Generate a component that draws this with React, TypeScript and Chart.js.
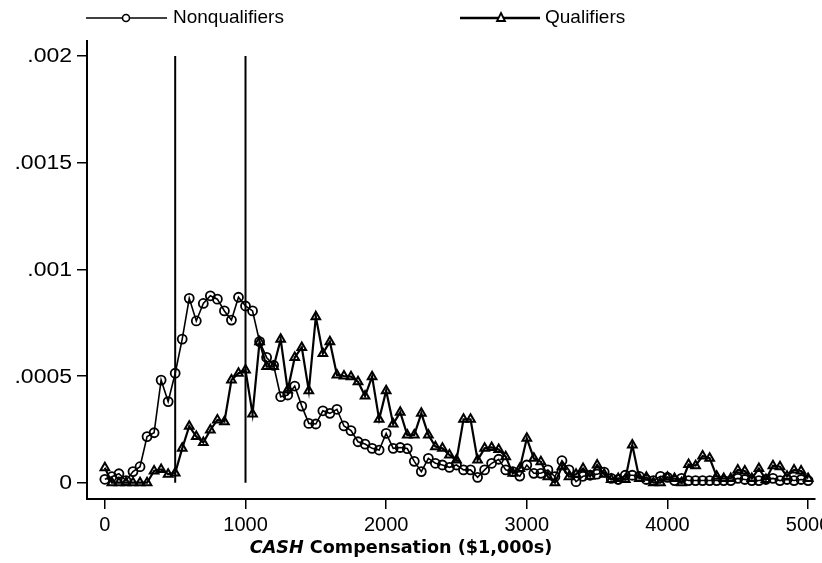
import React, { useEffect, useRef } from 'react';
import { Chart, registerables } from 'chart.js';

Chart.register(...registerables);

// CASH compensation grid ($1,000s)
const compensation = [
  0, 50, 100, 150, 200, 250, 300, 350, 400, 450,
  500, 550, 600, 650, 700, 750, 800, 850, 900, 950,
  1000, 1050, 1100, 1150, 1200, 1250, 1300, 1350, 1400, 1450,
  1500, 1550, 1600, 1650, 1700, 1750, 1800, 1850, 1900, 1950,
  2000, 2050, 2100, 2150, 2200, 2250, 2300, 2350, 2400, 2450,
  2500, 2550, 2600, 2650, 2700, 2750, 2800, 2850, 2900, 2950,
  3000, 3050, 3100, 3150, 3200, 3250, 3300, 3350, 3400, 3450,
  3500, 3550, 3600, 3650, 3700, 3750, 3800, 3850, 3900, 3950,
  4000, 4050, 4100, 4150, 4200, 4250, 4300, 4350, 4400, 4450,
  4500, 4550, 4600, 4650, 4700, 4750, 4800, 4850, 4900, 4950, 5000,
];

const nonqualifiers = [
  0.000016, 0.000028, 0.000042, 0.000010, 0.000052, 0.000075, 0.000216, 0.000234, 0.000481, 0.000380,
  0.000513, 0.000673, 0.000864, 0.000758, 0.000840, 0.000876, 0.000860, 0.000805, 0.000762, 0.000869,
  0.000828, 0.000805, 0.000661, 0.000587, 0.000550, 0.000403, 0.000411, 0.000453, 0.000359, 0.000278,
  0.000275, 0.000337, 0.000325, 0.000344, 0.000266, 0.000244, 0.000192, 0.000181, 0.000161, 0.000153,
  0.000231, 0.000161, 0.000165, 0.000160, 0.000100, 0.000052, 0.000114, 0.000091, 0.000083, 0.000072,
  0.000083, 0.000060, 0.000060, 0.000025, 0.000060, 0.000091, 0.000110, 0.000060, 0.000052, 0.000031,
  0.000083, 0.000044, 0.000044, 0.000060, 0.000028, 0.000103, 0.000060, 0.000005, 0.000030, 0.000035,
  0.000040, 0.000050, 0.000020, 0.000015, 0.000035, 0.000035, 0.000030, 0.000015, 0.000010, 0.000030,
  0.000025, 0.000010, 0.000020, 0.000010, 0.000010, 0.000010, 0.000010, 0.000010, 0.000010, 0.000010,
  0.000020, 0.000015, 0.000010, 0.000010, 0.000015, 0.000020, 0.000010, 0.000015, 0.000010, 0.000015, 0.000010,
];

const qualifiers = [
  0.000070, 0, 0, 0, 0, 0, 0, 0.000055, 0.000062, 0.000040,
  0.000045, 0.000161, 0.000265, 0.000216, 0.000188, 0.000247, 0.000294, 0.000286, 0.000481, 0.000513,
  0.000528, 0.000322, 0.000661, 0.000544, 0.000544, 0.000672, 0.000434, 0.000587, 0.000634, 0.000431,
  0.000778, 0.000606, 0.000661, 0.000505, 0.000500, 0.000497, 0.000473, 0.000406, 0.000497, 0.000297,
  0.000431, 0.000275, 0.000330, 0.000224, 0.000224, 0.000325, 0.000224, 0.000169, 0.000161, 0.000130,
  0.000106, 0.000297, 0.000297, 0.000106, 0.000161, 0.000165, 0.000156, 0.000122, 0.000044, 0.000067,
  0.000208, 0.000114, 0.000098, 0.000028, 0, 0.000075, 0.000028, 0.000040, 0.000067, 0.000030,
  0.000083, 0.000040, 0.000015, 0.000020, 0.000015, 0.000177, 0.000020, 0.000025, 0, 0,
  0.000025, 0.000020, 0, 0.000085, 0.000080, 0.000125, 0.000115, 0.000030, 0.000020, 0.000020,
  0.000060, 0.000055, 0.000020, 0.000067, 0.000015, 0.000080, 0.000075, 0.000030, 0.000060, 0.000055, 0.000020,
];

const seriesNames = ['Nonqualifiers', 'Qualifiers'];
const cutoffs = [500, 1000];
const cutoffRange = [0, 0.002];

const xTicks = [0, 1000, 2000, 3000, 4000, 5000];
const xTickLabels = ['0', '1000', '2000', '3000', '4000', '5000'];
const yTicks = [0, 0.0005, 0.001, 0.0015, 0.002];
const yTickLabels = ['0', '.0005', '.001', '.0015', '.002'];

const titleItalic = 'CASH';
const titleRest = ' Compensation ($1,000s)';

const TICK_FONT = { family: '"Liberation Sans", Arial, sans-serif', size: 20 };

const decorPlugin = {
  id: 'decor',
  afterDraw(chart: any) {
    const ctx: CanvasRenderingContext2D = chart.ctx;
    ctx.save();
    ctx.strokeStyle = '#000';
    ctx.fillStyle = '#000';

    // y tick labels (slightly wide face, right-aligned next to tick marks)
    const ys = chart.scales.y;
    ctx.font = '20px "Liberation Sans", Arial, sans-serif';
    ctx.textAlign = 'right';
    ctx.textBaseline = 'middle';
    yTicks.forEach((v, i) => {
      const py = ys.getPixelForValue(v);
      ctx.save();
      ctx.translate(72, py + 1);
      ctx.scale(1.15, 1);
      ctx.fillText(yTickLabels[i], 0, 0);
      ctx.restore();
    });

    // legend
    const ly = 18;
    ctx.lineWidth = 1.5;
    ctx.beginPath();
    ctx.moveTo(86, ly);
    ctx.lineTo(167, ly);
    ctx.stroke();
    ctx.fillStyle = '#fff';
    ctx.beginPath();
    ctx.arc(126, ly, 3.5, 0, Math.PI * 2);
    ctx.fill();
    ctx.lineWidth = 1.6;
    ctx.stroke();
    ctx.lineWidth = 2.4;
    ctx.beginPath();
    ctx.moveTo(460, ly);
    ctx.lineTo(540, ly);
    ctx.stroke();
    ctx.fillStyle = '#fff';
    ctx.beginPath();
    ctx.moveTo(501, ly - 5);
    ctx.lineTo(505, ly + 3);
    ctx.lineTo(497, ly + 3);
    ctx.closePath();
    ctx.fill();
    ctx.lineWidth = 1.8;
    ctx.stroke();
    ctx.fillStyle = '#000';
    ctx.font = '19px "Liberation Sans", Arial, sans-serif';
    ctx.textBaseline = 'middle';
    ctx.textAlign = 'left';
    ctx.fillText(seriesNames[0], 173, ly);
    ctx.fillText(seriesNames[1], 545, ly);

    // x-axis title
    const fItalic = 'italic bold 17.6px "DejaVu Sans", Verdana, sans-serif';
    const fBold = 'bold 17.6px "DejaVu Sans", Verdana, sans-serif';
    ctx.font = fItalic;
    const w1 = ctx.measureText(titleItalic).width;
    ctx.font = fBold;
    const w2 = ctx.measureText(titleRest).width;
    const total = w1 + w2;
    const cx = 401;
    const x0 = cx - total / 2;
    ctx.textBaseline = 'alphabetic';
    ctx.font = fItalic;
    ctx.fillText(titleItalic, x0, 553);
    ctx.font = fBold;
    ctx.fillText(titleRest, x0 + w1, 553);
    ctx.restore();
  },
};

export default function App() {
  const ref = useRef<HTMLCanvasElement | null>(null);

  useEffect(() => {
    document.body.style.margin = '0';
    if (!ref.current) return;

    const nonqPts = compensation.map((x, i) => ({ x, y: nonqualifiers[i] }));
    const qualPts = compensation.map((x, i) => ({ x, y: qualifiers[i] }));
    const cutoffSets = cutoffs.map((c) => ({
      type: 'line' as const,
      data: cutoffRange.map((y) => ({ x: c, y })),
      borderColor: '#000',
      borderWidth: 2,
      pointRadius: 0,
      showLine: true,
      fill: false,
      clip: false as any,
    }));

    const chart = new Chart(ref.current, {
      type: 'line',
      data: {
        datasets: [
          ...cutoffSets,
          {
            label: seriesNames[1],
            data: qualPts,
            borderColor: '#000',
            borderWidth: 2.2,
            pointStyle: 'triangle',
            pointRadius: 5,
            pointBorderWidth: 2,
            pointBackgroundColor: 'rgba(255,255,255,0)',
            pointBorderColor: '#000',
            tension: 0,
            fill: false,
            clip: false as any,
          },
          {
            label: seriesNames[0],
            data: nonqPts,
            borderColor: '#000',
            borderWidth: 1.6,
            pointStyle: 'circle',
            pointRadius: 4.5,
            pointBorderWidth: 1.8,
            pointBackgroundColor: 'rgba(255,255,255,0)',
            pointBorderColor: '#000',
            tension: 0,
            fill: false,
            clip: false as any,
          },
        ],
      },
      options: {
        animation: false,
        responsive: true,
        maintainAspectRatio: false,
        layout: { padding: { top: 41, left: 0, right: 0, bottom: 0 } },
        plugins: {
          legend: { display: false },
          tooltip: { enabled: false },
        },
        scales: {
          x: {
            type: 'linear',
            min: -127,
            max: 5049,
            afterBuildTicks: (s: any) => {
              s.ticks = xTicks.map((v) => ({ value: v }));
            },
            afterFit: (s: any) => {
              s.height = 64;
              s.paddingLeft = 0;
              s.paddingRight = 0;
            },
            ticks: {
              color: '#000',
              font: TICK_FONT,
              padding: 4,
              maxRotation: 0,
              autoSkip: false,
              callback: (v: any) => {
                const i = xTicks.indexOf(Number(v));
                return i >= 0 ? xTickLabels[i] : '';
              },
            },
            grid: {
              drawOnChartArea: false,
              drawTicks: true,
              tickLength: 10,
              color: '#000',
              lineWidth: 1.5,
            },
            border: { display: true, color: '#000', width: 2 },
          },
          y: {
            type: 'linear',
            min: -0.0000764,
            max: 0.00207,
            afterBuildTicks: (s: any) => {
              s.ticks = yTicks.map((v) => ({ value: v }));
            },
            afterFit: (s: any) => {
              s.width = 87;
              s.paddingTop = 0;
              s.paddingBottom = 0;
            },
            ticks: {
              display: false,
            },
            grid: {
              drawOnChartArea: false,
              drawTicks: true,
              tickLength: 10,
              color: '#000',
              lineWidth: 1.5,
            },
            border: { display: true, color: '#000', width: 2 },
          },
        },
      },
      plugins: [decorPlugin],
    });

    return () => chart.destroy();
  }, []);

  return (
    <div style={{ position: 'absolute', left: 0, top: 0, width: 822, height: 563, background: '#fff' }}>
      <canvas ref={ref} />
    </div>
  );
}
